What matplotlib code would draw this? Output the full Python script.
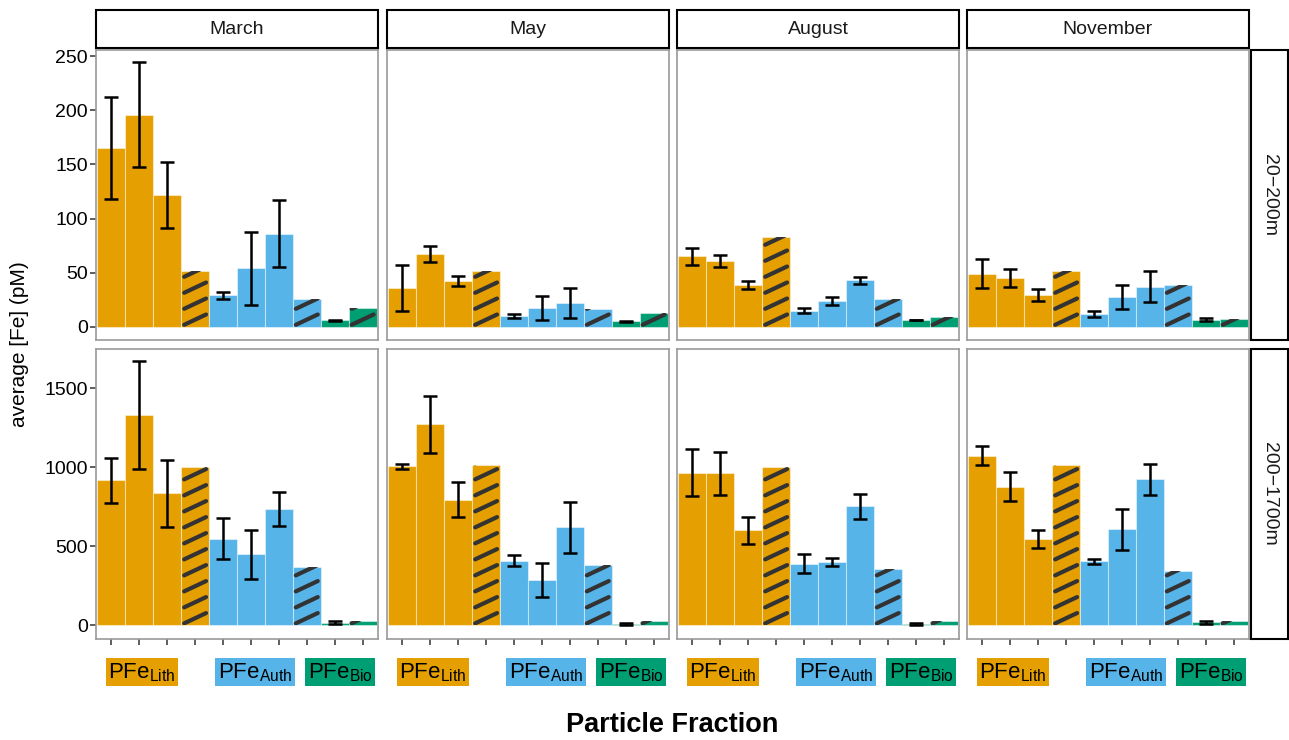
import matplotlib
matplotlib.use("Agg")
import matplotlib.pyplot as plt
from matplotlib.patches import Rectangle
import numpy as np

plt.rcParams['font.family'] = ['Liberation Sans', 'DejaVu Sans']
plt.rcParams['mathtext.fontset'] = 'custom'
plt.rcParams['mathtext.rm'] = 'Liberation Sans'

months = ["March", "May", "August", "November"]
depths = ["20\u2212200m", "200\u22121700m"]

# 10 bars per panel: 3 Lith + Lith total(hatched), 3 Auth + Auth total(hatched), Bio + Bio total(hatched)
bar_group = ["Lith"] * 4 + ["Auth"] * 4 + ["Bio"] * 2
bar_hatched = [False, False, False, True, False, False, False, True, False, True]
group_colors = {"Lith": "#E69F00", "Auth": "#56B4E9", "Bio": "#009E73"}
group_labels = ["Lith", "Auth", "Bio"]
group_label_pos = [2.1, 6.15, 9.2]

# 20-200m, one row per month
mean_shallow = [
    [165, 196, 122, 52, 29, 54, 86, 26, 6, 17.5],
    [36, 67, 42, 52, 10, 17, 22, 16, 5, 13],
    [65, 61, 38.5, 83, 15, 24, 43, 26, 6.4, 9],
    [49, 45, 29, 52, 12, 27.5, 37, 39, 6.7, 7.3],
]
sd_shallow = [
    [47, 48.5, 30.5, 0, 3.5, 33.5, 31, 0, 0.5, 0],
    [21.5, 7.5, 4.5, 0, 2, 11, 13.5, 0, 0.3, 0],
    [8, 5.5, 3.5, 0, 2.5, 3.5, 3.3, 0, 0.3, 0],
    [13.5, 8.5, 5.5, 0, 2.8, 11.2, 14.5, 0, 1.3, 0],
]
# 200-1700m
mean_deep = [
    [916, 1331, 835, 998, 548, 448, 736, 372, 17, 29],
    [1006, 1270, 795, 1013, 410, 285, 619, 383, 10, 27],
    [964, 960, 600, 998, 391, 400, 753, 354, 8, 25],
    [1071, 877, 548, 1013, 404, 607, 925, 343, 19, 25],
]
sd_deep = [
    [140, 341, 213, 0, 128, 153, 110, 0, 8, 0],
    [16, 178, 112, 0, 36, 108, 160, 0, 5, 0],
    [148, 137, 85, 0, 57, 23, 78, 0, 5, 0],
    [60, 93, 57, 0, 17, 130, 98, 0, 9, 0],
]

row_data = [(mean_shallow, sd_shallow), (mean_deep, sd_deep)]
row_ylim = [(-12.2, 255.7), (-83, 1750)]
row_ticks = [[0, 50, 100, 150, 200, 250], [0, 500, 1000, 1500]]

W, H = 1289, 740
fig = plt.figure(figsize=(W / 100, H / 100), dpi=100)

col_left = [96, 387, 677, 967]
panel_w = 282
row_top = [50, 348.5]
panel_h = 290


def add_px_axes(left, top, w, h):
    return fig.add_axes([left / W, 1 - (top + h) / H, w / W, h / H])


def draw_stripes(ax, patch):
    # diagonal stripes drawn in pixel space, clipped to the bar
    (x0, y0), (x1, y1) = ax.transData.transform(
        [(patch.get_x(), patch.get_y()),
         (patch.get_x() + patch.get_width(), patch.get_y() + patch.get_height())])
    w = x1 - x0
    slope = 0.47
    spacing = 16
    yc = y0 + 2
    inv = ax.transData.inverted()
    while yc < y1 + 2:
        pts = inv.transform([(x0 + 3, yc), (x1 - 3, yc + slope * (w - 6))])
        ln, = ax.plot(pts[:, 0], pts[:, 1], color="#333333", lw=3,
                      solid_capstyle="round", zorder=3)
        ln.set_clip_path(patch)
        yc += spacing


x = np.arange(1, 11)
colors = [group_colors[g] for g in bar_group]

for r in range(2):
    means, sds = row_data[r]
    for c in range(4):
        ax = add_px_axes(col_left[c], row_top[r], panel_w, panel_h)
        ax.set_xlim(0.45, 10.55)
        ax.set_ylim(*row_ylim[r])
        bars = ax.bar(x, means[c], width=1, color=colors,
                      edgecolor=(1, 1, 1, 0.45), linewidth=0.8, zorder=2)
        for i, patch in enumerate(bars.patches):
            if bar_hatched[i]:
                draw_stripes(ax, patch)
        keep = [i for i in range(10) if not bar_hatched[i]]
        ax.errorbar(x[keep], np.array(means[c])[keep], yerr=np.array(sds[c])[keep],
                    fmt="none", ecolor="black", elinewidth=1.8, capsize=4.7,
                    capthick=1.8, zorder=4)
        ax.set_xlim(0.45, 10.55)
        ax.set_ylim(*row_ylim[r])

        for s in ax.spines.values():
            s.set_color("#9a9a9a")
            s.set_linewidth(1.2)

        ax.set_xticks(x)
        ax.set_xticklabels([])
        ax.set_yticks(row_ticks[r])
        ax.tick_params(axis="both", length=4, width=1.1, color="#333333",
                       labelsize=14, labelcolor="black", pad=2)
        if c > 0:
            ax.tick_params(axis="y", left=False, labelleft=False)
        if r == 0:
            ax.tick_params(axis="x", bottom=False)
        else:
            for g, gx in zip(group_labels, group_label_pos):
                ax.text(gx, -0.117, r"PFe$_{\mathrm{%s}}$" % g,
                        transform=ax.get_xaxis_transform(), ha="center",
                        va="center", fontsize=16,
                        bbox=dict(boxstyle="square,pad=0.12",
                                  fc=group_colors[g], ec="none"))

# facet strips on top
for c in range(4):
    fig.patches.append(Rectangle((col_left[c] / W, 1 - 48 / H), panel_w / W, 38 / H,
                                 transform=fig.transFigure, fc="white",
                                 ec="black", lw=1.5))
    fig.text((col_left[c] + panel_w / 2) / W, 1 - 29 / H, months[c],
             ha="center", va="center", fontsize=14, color="#1a1a1a")

# facet strips on the right
for r in range(2):
    fig.patches.append(Rectangle((1251 / W, 1 - (row_top[r] + panel_h) / H), 37 / W,
                                 panel_h / H, transform=fig.transFigure,
                                 fc="white", ec="black", lw=1.5))
    fig.text(1270 / W, 1 - (row_top[r] + panel_h / 2) / H, depths[r],
             ha="center", va="center", rotation=270, fontsize=14, color="#1a1a1a")

fig.text(20 / W, 1 - 344 / H, "average [Fe] (pM)", rotation=90,
         ha="center", va="center", fontsize=15)
fig.text(672 / W, 1 - 725 / H, "Particle Fraction", ha="center", va="center",
         fontsize=19.5, fontweight="bold")

fig.savefig("out.png", dpi=100, facecolor="white")
